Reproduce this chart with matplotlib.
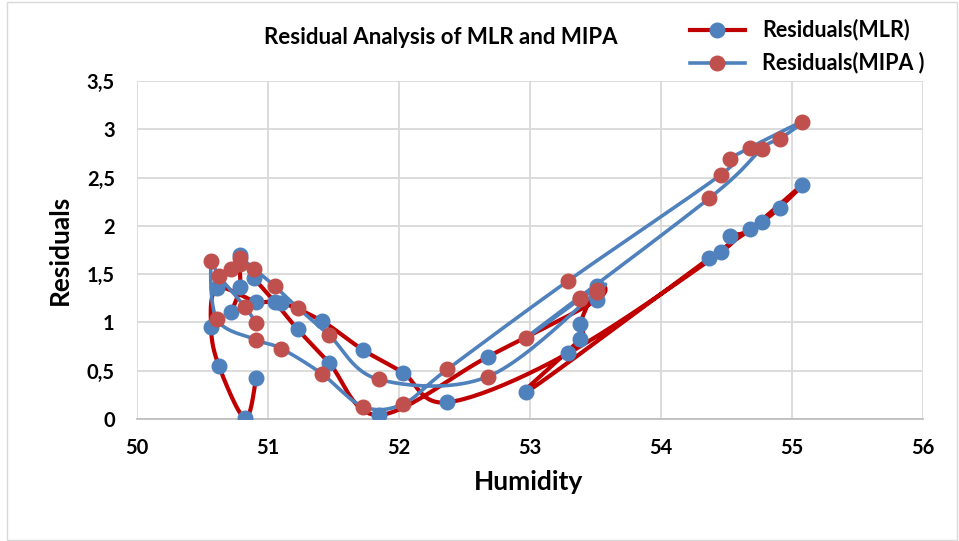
import numpy as np
import matplotlib
matplotlib.use('Agg')
import matplotlib.pyplot as plt
from matplotlib.lines import Line2D
from matplotlib.patches import Rectangle

plt.rcParams['font.family'] = ['Lato', 'DejaVu Sans']

# data in recorded order (Excel smoothed lines connect consecutive points)
humidity = [50.72, 50.786, 50.786, 50.895, 51.05, 51.226, 51.466, 51.846, 52.68,
            53.51, 53.51, 53.38, 53.38, 52.97, 54.37, 54.77, 54.905, 55.075, 54.68,
            54.53, 54.455, 53.29, 52.37, 52.03, 51.726, 51.41, 51.10, 50.91, 50.61,
            50.565, 50.625, 50.824, 50.91]
res_mlr = [1.106, 1.37, 1.70, 1.46, 1.216, 0.93, 0.583, 0.041, 0.646,
           1.233, 1.378, 0.98, 0.826, 0.276, 1.665, 2.04, 2.19, 2.42, 1.965,
           1.896, 1.727, 0.68, 0.173, 0.48, 0.715, 1.015, 1.205, 1.216, 1.354,
           0.95, 0.55, 0.007, 0.42]
res_mipa = [1.555, 1.60, 1.67, 1.554, 1.378, 1.153, 0.87, 0.41, 0.44,
            1.32, 1.34, 1.25, 1.24, 0.843, 2.287, 2.80, 2.90, 3.075, 2.81,
            2.69, 2.528, 1.43, 0.515, 0.155, 0.128, 0.47, 0.73, 0.82, 1.033,
            1.64, 1.48, 1.164, 0.99]

xticks = [50, 51, 52, 53, 54, 55, 56]
yticks = [0, 0.5, 1, 1.5, 2, 2.5, 3, 3.5]
ylabels = ['0', '0,5', '1', '1,5', '2', '2,5', '3', '3,5']
series_names = ['Residuals(MLR)', 'Residuals(MIPA )']

RED = '#C00000'
BLUE = '#4F81BD'
RED_MK = '#C0504D'
GRID = '#D9D9D9'
MS = 10.5

W, H = 959, 541
fig = plt.figure(figsize=(W / 100, H / 100), dpi=100)
ax = fig.add_axes([137 / W, 1 - 419 / H, (923 - 137) / W, (419 - 81) / H])
ax.set_xlim(50, 56)
ax.set_ylim(0, 3.5)


def smooth(ax, xs, ys, n=24):
    # Excel-like smoothing: cubic Bezier with Catmull-Rom control points (display space)
    pts = ax.transData.transform(np.column_stack([xs, ys]))
    out = [pts[0]]
    m = len(pts)
    for i in range(m - 1):
        p0 = pts[max(i - 1, 0)]
        p1 = pts[i]
        p2 = pts[i + 1]
        p3 = pts[min(i + 2, m - 1)]
        c1 = p1 + (p2 - p0) / 6.0
        c2 = p2 - (p3 - p1) / 6.0
        t = np.linspace(0, 1, n)[1:, None]
        seg = ((1 - t) ** 3) * p1 + 3 * ((1 - t) ** 2) * t * c1 + 3 * (1 - t) * t ** 2 * c2 + t ** 3 * p2
        out.extend(seg)
    out = ax.transData.inverted().transform(np.array(out))
    return out[:, 0], out[:, 1]


sx, sy = smooth(ax, humidity, res_mlr)
ax.plot(sx, sy, color=RED, lw=3.0, solid_capstyle='round', zorder=3)
ax.plot(humidity, res_mlr, ls='none', marker='o', ms=MS, color=BLUE, mec=BLUE, zorder=4)

sx, sy = smooth(ax, humidity, res_mipa)
ax.plot(sx, sy, color=BLUE, lw=2.6, solid_capstyle='round', zorder=5)
ax.plot(humidity, res_mipa, ls='none', marker='o', ms=MS, color=RED_MK, mec=RED_MK, zorder=6)

ax.set_xticks(xticks)
ax.set_xticklabels([str(v) for v in xticks])
ax.set_yticks(yticks)
ax.set_yticklabels(ylabels)
ax.grid(True, color=GRID, lw=1.3)
ax.set_axisbelow(True)
for s in ['top', 'right', 'left']:
    ax.spines[s].set_visible(False)
ax.spines['bottom'].set_color('#BFBFBF')
ax.spines['bottom'].set_linewidth(1.3)
ax.tick_params(axis='x', length=0, labelsize=14.5, pad=14)
ax.tick_params(axis='y', length=0, labelsize=14.5, pad=16)
for lab in ax.get_xticklabels() + ax.get_yticklabels():
    lab.set_fontweight('bold')

fig.text(528 / W, 1 - 482 / H, 'Humidity', ha='center', va='center', fontsize=19, fontweight='bold')
fig.text(60 / W, 1 - 250 / H, 'Residuals', ha='center', va='center', rotation=90,
         fontsize=19, fontweight='bold')
fig.text(441 / W, 1 - 38 / H, 'Residual Analysis of MLR and MIPA', ha='center', va='center',
         fontsize=16, fontweight='bold')

# legend drawn by hand to match Excel placement
styles = [(RED, 3.0, BLUE), (BLUE, 2.6, RED_MK)]
for i, (name, (lc, lw, mc)) in enumerate(zip(series_names, styles)):
    yy = 1 - (30 + 33 * i) / H
    fig.add_artist(Line2D([690 / W, 745 / W], [yy, yy], color=lc, lw=lw,
                          transform=fig.transFigure))
    fig.add_artist(Line2D([717 / W], [yy], ls='none', marker='o', ms=MS, mfc=mc, mec=mc,
                          transform=fig.transFigure))
    fig.text(762 / W, yy, name, ha='left', va='center', fontsize=15.5, fontweight='bold')

fig.patches.append(Rectangle((7 / W, 0.002), 950 / W, 0.995, transform=fig.transFigure,
                             fill=False, edgecolor=GRID, lw=1))

fig.savefig('out.png', dpi=100)
